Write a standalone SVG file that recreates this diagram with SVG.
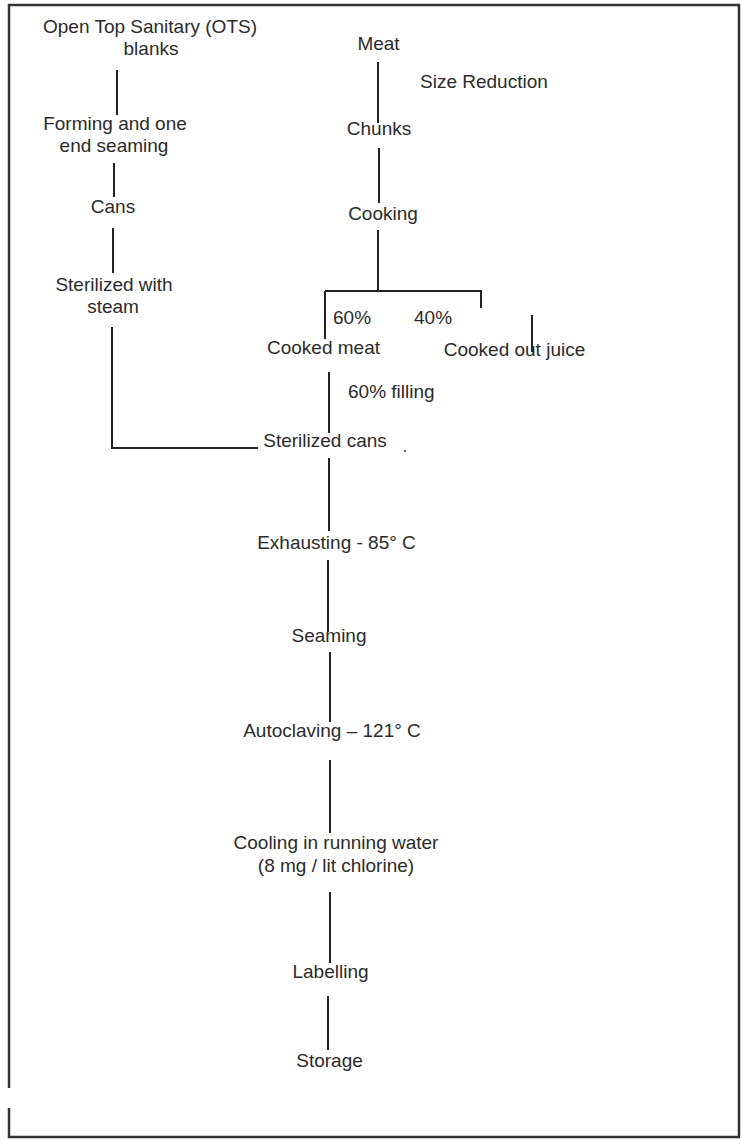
<svg xmlns="http://www.w3.org/2000/svg" width="741" height="1144" viewBox="0 0 741 1144">
<style>
text{font-family:"Liberation Sans",Arial,sans-serif;font-size:19px;fill:#2b2b2b}
.m{text-anchor:middle}
.c line,.c path{stroke:#222;stroke-width:2;fill:none}
.f{stroke:#333;stroke-width:2.5;fill:none}
</style>
<rect width="741" height="1144" fill="#fff"/>
<g id="frame">
<path class="f" d="M9 1088 V5 H739 V1137 H9 V1108"/>
</g>
<g id="connectors" class="c">
<line x1="117" y1="70" x2="117" y2="115"/>
<line x1="114" y1="163" x2="114" y2="197"/>
<line x1="113" y1="228" x2="113" y2="273"/>
<path d="M112 327 V448 H258"/>
<line x1="378" y1="62" x2="378" y2="123"/>
<line x1="379" y1="148" x2="379" y2="203"/>
<line x1="378" y1="230" x2="378" y2="291"/>
<line x1="325" y1="291" x2="482" y2="291"/>
<line x1="325" y1="291" x2="325" y2="339"/>
<line x1="481" y1="291" x2="481" y2="308"/>
<line x1="532" y1="315" x2="532" y2="352"/>
<line x1="329" y1="372" x2="329" y2="433"/>
<line x1="329" y1="458" x2="329" y2="531"/>
<line x1="328" y1="560" x2="328" y2="632"/>
<line x1="330" y1="652" x2="330" y2="722"/>
<line x1="330" y1="760" x2="330" y2="833"/>
<line x1="330" y1="892" x2="330" y2="963"/>
<line x1="328" y1="996" x2="328" y2="1050"/>
<circle cx="405" cy="451" r="1" fill="#333"/>
</g>
<g id="n-ots"><text class="m" x="150" y="33">Open Top Sanitary (OTS)</text><text class="m" x="151" y="55">blanks</text></g>
<g id="n-forming"><text class="m" x="115" y="130">Forming and one</text><text class="m" x="114" y="152">end seaming</text></g>
<g id="n-cans"><text class="m" x="113" y="213">Cans</text></g>
<g id="n-sterilized-steam"><text class="m" x="114" y="291">Sterilized with</text><text class="m" x="113" y="313">steam</text></g>
<g id="n-meat"><text class="m" x="378.5" y="50">Meat</text></g>
<g id="l-size"><text x="420" y="88">Size Reduction</text></g>
<g id="n-chunks"><text class="m" x="379" y="135">Chunks</text></g>
<g id="n-cooking"><text class="m" x="383" y="220">Cooking</text></g>
<g id="l-60"><text x="333" y="324">60%</text></g>
<g id="l-40"><text x="414" y="324">40%</text></g>
<g id="n-cooked-meat"><text class="m" x="323.5" y="354">Cooked meat</text></g>
<g id="n-juice"><text class="m" x="514.5" y="356">Cooked out juice</text></g>
<g id="l-filling"><text x="348" y="398">60% filling</text></g>
<g id="n-sterilized-cans"><text class="m" x="325" y="447">Sterilized cans</text></g>
<g id="n-exhausting"><text class="m" x="336.5" y="549">Exhausting - 85° C</text></g>
<g id="n-seaming"><text class="m" x="329" y="642">Seaming</text></g>
<g id="n-autoclaving"><text class="m" x="332" y="737">Autoclaving – 121° C</text></g>
<g id="n-cooling"><text class="m" x="336" y="849">Cooling in running water</text><text class="m" x="336" y="872">(8 mg / lit chlorine)</text></g>
<g id="n-labelling"><text class="m" x="330.5" y="978">Labelling</text></g>
<g id="n-storage"><text class="m" x="329.5" y="1067">Storage</text></g>
</svg>
